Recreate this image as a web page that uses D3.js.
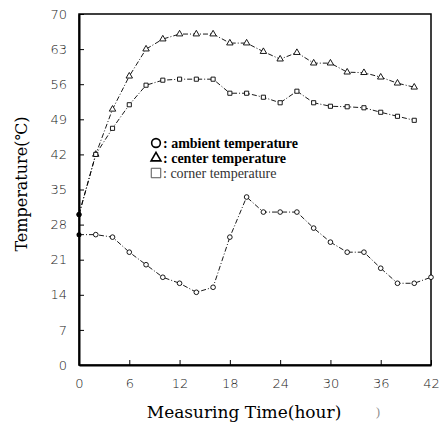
<!DOCTYPE html>
<html>
<head>
<meta charset="utf-8">
<script src="https://cdn.jsdelivr.net/npm/d3@7"></script>
<style>
  body { margin: 0; background: #fff; }
  svg { display: block; }
</style>
</head>
<body>
<div id="chart"></div>
<script>
const hours = [0, 2, 4, 6, 8, 10, 12, 14, 16, 18, 20, 22, 24, 26, 28, 30, 32, 34, 36, 38, 40, 42];
const ambient = [26, 26, 25.5, 22.5, 20, 17.5, 16.3, 14.5, 15.5, 25.5, 33.5, 30.5, 30.5, 30.5, 27.3, 24.5, 22.5, 22.5, 19.3, 16.3, 16.3, 17.5];
const center = [30, 42, 51, 57.6, 63, 65, 66, 66, 66, 64.2, 64.2, 62.5, 61, 62.3, 60.2, 60.2, 58.4, 58.3, 57.4, 56.2, 55.4];
const corner = [30, 42, 47.2, 51.9, 55.8, 56.8, 57, 57, 57, 54.2, 54.2, 53.4, 52.3, 54.6, 52.3, 51.6, 51.5, 51.3, 50.4, 49.6, 48.8];
const xTicks = [0, 6, 12, 18, 24, 30, 36, 42];
const yTicks = [0, 7, 14, 21, 28, 35, 42, 49, 56, 63, 70];
const legendItems = [
    { key: "circle", label: ": ambient temperature", bold: true },
    { key: "triangle", label: ": center temperature", bold: true },
    { key: "square", label: ": corner temperature", bold: false },
];

let dimensions = {
    width: 442,
    height: 429,
    margin: {
        top: 14,
        right: 11,
        bottom: 64,
        left: 79,
    },
}
dimensions.boundedWidth = dimensions.width - dimensions.margin.left - dimensions.margin.right;
dimensions.boundedHeight = dimensions.height - dimensions.margin.top - dimensions.margin.bottom;

const svg = d3.select("#chart")
    .append("svg")
    .attr("width", dimensions.width)
    .attr("height", dimensions.height);

const g = svg.append("g")
    .attr("transform", `translate(${dimensions.margin.left}, ${dimensions.margin.top})`);

const x = d3.scaleLinear()
    .domain([0, 42])
    .range([0, dimensions.boundedWidth]);
const y = d3.scaleLinear()
    .domain([0, 70])
    .range([dimensions.boundedHeight, 0]);

// frame
g.append("rect")
    .attr("width", dimensions.boundedWidth)
    .attr("height", dimensions.boundedHeight)
    .attr("fill", "none")
    .attr("stroke", "#000")
    .attr("stroke-width", 1.5);

// axes with inward ticks
const xAxis = g.append("g")
    .attr("transform", `translate(0, ${dimensions.boundedHeight})`)
    .call(d3.axisBottom(x).tickValues(xTicks).tickSizeInner(-5).tickSizeOuter(0).tickPadding(14));
const yAxis = g.append("g")
    .call(d3.axisLeft(y).tickValues(yTicks).tickSizeInner(-5).tickSizeOuter(0).tickPadding(12));

[xAxis, yAxis].forEach(a => {
    a.select(".domain").attr("stroke-width", 2);
    a.selectAll("text")
        .attr("fill", "#222")
        .style("font-family", "'DejaVu Sans', sans-serif")
        .style("font-size", "13px")
        .style("font-weight", "300");
});

// lines
const series = [
    { key: "circle", values: ambient },
    { key: "triangle", values: center },
    { key: "square", values: corner },
];

const line = d3.line()
    .x(d => x(d[0]))
    .y(d => y(d[1]));

series.forEach(s => {
    const pts = s.values.map((v, i) => [hours[i], v]);
    g.append("path")
        .datum(pts)
        .attr("fill", "none")
        .attr("stroke", "#000")
        .attr("stroke-width", 0.9)
        .attr("stroke-dasharray", "5,2,1,2")
        .attr("d", line);

    const sym = s.key === "circle" ? d3.symbolCircle : s.key === "triangle" ? d3.symbolTriangle : d3.symbolSquare;
    g.append("g")
        .selectAll("path")
        .data(pts.slice(1))
        .join("path")
        .attr("transform", d => `translate(${x(d[0])}, ${y(d[1])})`)
        .attr("d", d3.symbol().type(sym).size(s.key === "triangle" ? 18 : 17))
        .attr("fill", "#fff")
        .attr("stroke", "#000")
        .attr("stroke-width", 0.9);

    // start points are filled dots on the axis
    g.append("circle")
        .attr("cx", x(pts[0][0]))
        .attr("cy", y(pts[0][1]))
        .attr("r", 2.5)
        .attr("fill", "#000");
});

// legend
const legend = svg.append("g")
    .attr("transform", "translate(156, 143)");

legendItems.forEach((item, i) => {
    const row = legend.append("g")
        .attr("transform", `translate(0, ${i * 15})`);
    const sym = item.key === "circle" ? d3.symbolCircle : item.key === "triangle" ? d3.symbolTriangle : d3.symbolSquare;
    row.append("path")
        .attr("d", d3.symbol().type(sym).size(item.key === "square" ? 90 : item.key === "triangle" ? 42 : 60))
        .attr("fill", "#fff")
        .attr("stroke", item.key === "square" ? "#555" : "#000")
        .attr("stroke-width", item.key === "square" ? 1 : 1.6);
    row.append("text")
        .attr("x", 7)
        .attr("y", 4.5)
        .attr("fill", item.bold ? "#000" : "#333")
        .style("font-family", "'Liberation Serif', serif")
        .style("font-size", "14px")
        .style("font-weight", item.bold ? "bold" : "normal")
        .text(item.label);
});

// axis titles
svg.append("text")
    .attr("x", 244)
    .attr("y", 418)
    .attr("text-anchor", "middle")
    .style("font-family", "'DejaVu Serif', serif")
    .style("font-size", "17px")
    .text("Measuring Time(hour)");

svg.append("text")
    .attr("x", 378)
    .attr("y", 416)
    .attr("text-anchor", "middle")
    .attr("fill", "#888")
    .style("font-family", "'Liberation Serif', serif")
    .style("font-size", "12px")
    .text(")");

svg.append("text")
    .attr("transform", "translate(27, 184) rotate(-90)")
    .attr("text-anchor", "middle")
    .style("font-family", "'DejaVu Serif', serif")
    .style("font-size", "16px")
    .text("Temperature(℃)");
</script>
</body>
</html>
